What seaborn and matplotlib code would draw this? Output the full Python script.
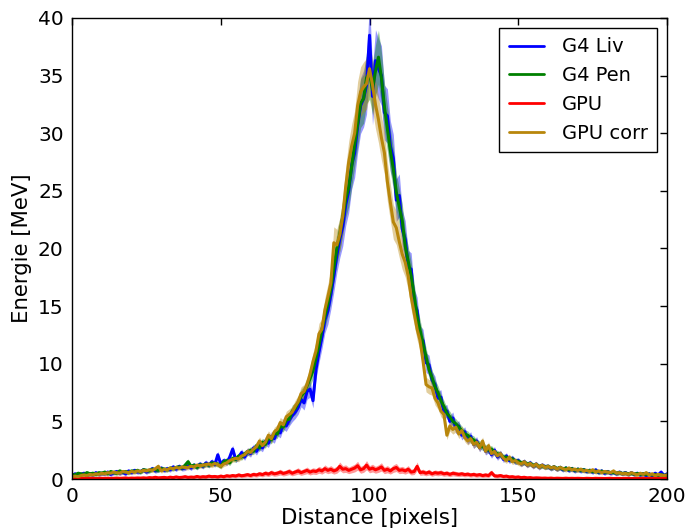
import numpy as np
import pandas as pd
import matplotlib
matplotlib.use("Agg")
import matplotlib.pyplot as plt
import seaborn as sns

# energy profiles along the line (one value per pixel, 0..200)
distance = list(range(201))

g4_liv = [
    0.3, 0.45, 0.25, 0.4, 0.5, 0.3, 0.45, 0.35, 0.55, 0.4,
    0.5, 0.45, 0.6, 0.4, 0.55, 0.65, 0.5, 0.6, 0.45, 0.7,
    0.55, 0.75, 0.6, 0.65, 0.8, 0.6, 0.75, 0.9, 0.7, 0.8,
    0.95, 0.75, 0.9, 0.8, 1.05, 0.85, 1.1, 0.9, 0.95, 1.15,
    0.95, 1.2, 1.05, 1.3, 1.1, 1.4, 1.2, 1.5, 1.25, 2.1,
    1.3, 1.6, 1.4, 1.9, 2.6, 1.7, 1.9, 2.3, 1.9, 2.4,
    2.2, 2.7, 2.4, 2.9, 2.7, 3.3, 3.1, 3.7, 3.5, 4.2,
    4.0, 4.8, 4.6, 5.1, 5.5, 5.8, 6.2, 6.9, 6.6, 7.6,
    7.8, 6.8, 9.5, 11.0, 12.3, 13.8, 14.6, 16.0, 17.6, 19.4,
    20.8, 21.9, 23.8, 25.0, 27.2, 28.3, 30.6, 32.4, 33.0, 34.2,
    38.5, 33.2, 36.3, 35.6, 35.0, 31.8, 31.5, 28.9, 27.8, 24.2,
    24.6, 21.7, 20.8, 18.4, 18.2, 15.3, 14.6, 12.3, 12.0, 10.1,
    9.9, 8.6, 8.2, 7.0, 7.1, 5.8, 5.9, 5.0, 5.3, 4.4,
    4.6, 3.8, 4.1, 3.4, 3.7, 3.0, 3.3, 2.7, 3.1, 2.4,
    2.6, 2.1, 2.5, 1.9, 2.2, 1.7, 2.0, 1.6, 1.8, 1.5,
    1.6, 1.3, 1.5, 1.2, 1.4, 1.1, 1.3, 1.0, 1.2, 1.05,
    1.1, 0.9, 1.05, 0.85, 1.0, 0.8, 0.95, 0.75, 0.9, 0.7,
    0.85, 0.7, 0.8, 0.65, 0.75, 0.6, 0.8, 0.55, 0.7, 0.5,
    0.65, 0.5, 0.6, 0.45, 0.6, 0.45, 0.55, 0.4, 0.55, 0.4,
    0.5, 0.35, 0.45, 0.3, 0.45, 0.3, 0.5, 0.35, 0.6, 0.3,
    0.45,
]

g4_pen = [
    0.4, 0.35, 0.5, 0.45, 0.4, 0.55, 0.45, 0.5, 0.4, 0.55,
    0.5, 0.6, 0.45, 0.65, 0.55, 0.5, 0.7, 0.6, 0.65, 0.55,
    0.7, 0.65, 0.75, 0.6, 0.8, 0.75, 0.7, 0.85, 0.8, 0.75,
    0.9, 0.85, 0.8, 0.95, 0.9, 1.0, 1.05, 0.95, 1.2, 1.5,
    1.1, 1.2, 1.0, 1.25, 1.15, 1.3, 1.2, 1.4, 1.35, 1.3,
    1.1, 1.5, 1.6, 1.4, 1.8, 1.7, 2.0, 1.9, 2.2, 2.3,
    2.5, 2.4, 2.9, 2.7, 3.2, 3.0, 3.6, 3.4, 4.0, 3.9,
    4.6, 4.5, 5.1, 5.2, 5.9, 6.1, 6.6, 7.2, 7.5, 8.1,
    8.7, 9.4, 10.5, 11.6, 13.0, 14.1, 15.2, 16.5, 18.3, 20.0,
    21.2, 22.7, 24.3, 25.3, 27.1, 29.0, 30.8, 32.6, 33.0, 34.8,
    35.2, 33.8, 35.4, 36.6, 34.8, 32.3, 30.4, 28.5, 26.9, 24.9,
    23.6, 22.4, 20.2, 18.9, 17.6, 15.9, 14.1, 12.9, 11.7, 10.6,
    9.5, 8.8, 8.0, 7.5, 6.8, 6.3, 5.7, 5.4, 5.0, 4.8,
    4.5, 4.2, 3.9, 3.8, 3.5, 3.4, 3.1, 3.0, 2.8, 2.7,
    2.5, 2.6, 2.3, 2.2, 2.1, 1.9, 1.9, 1.7, 1.75, 1.55,
    1.55, 1.4, 1.45, 1.3, 1.35, 1.2, 1.25, 1.1, 1.15, 1.05,
    1.1, 0.95, 1.05, 0.9, 1.0, 0.85, 0.95, 0.8, 0.9, 0.75,
    0.85, 0.75, 0.8, 0.7, 0.75, 0.65, 0.7, 0.6, 0.68, 0.58,
    0.62, 0.55, 0.58, 0.5, 0.55, 0.48, 0.52, 0.45, 0.5, 0.42,
    0.48, 0.4, 0.45, 0.38, 0.42, 0.35, 0.4, 0.33, 0.38, 0.32,
    0.35,
]

gpu = [
    0.05, 0.04, 0.06, 0.05, 0.04, 0.05, 0.06, 0.05, 0.04, 0.05,
    0.06, 0.05, 0.07, 0.05, 0.06, 0.08, 0.06, 0.07, 0.09, 0.06,
    0.08, 0.07, 0.09, 0.08, 0.1, 0.08, 0.12, 0.1, 0.15, 0.1,
    0.12, 0.14, 0.1, 0.16, 0.12, 0.18, 0.13, 0.15, 0.2, 0.14,
    0.17, 0.15, 0.22, 0.16, 0.2, 0.18, 0.25, 0.2, 0.22, 0.18,
    0.25, 0.2, 0.28, 0.24, 0.3, 0.26, 0.35, 0.28, 0.32, 0.38,
    0.3, 0.4, 0.35, 0.45, 0.38, 0.5, 0.42, 0.55, 0.45, 0.5,
    0.6, 0.48, 0.55, 0.65, 0.5, 0.6, 0.7, 0.55, 0.65, 0.75,
    0.6, 0.7, 0.65, 0.8, 0.7, 0.9, 0.75, 0.85, 0.7, 0.8,
    1.1, 0.85, 0.9, 0.75, 0.85, 0.95, 1.15, 0.8, 0.9, 1.2,
    0.85, 0.95, 0.8, 0.9, 1.05, 0.75, 0.85, 0.7, 0.9, 1.0,
    0.75, 0.8, 0.7, 0.85, 0.6, 0.65, 1.1, 0.55, 0.6, 0.5,
    0.6, 0.45, 0.55, 0.5, 0.55, 0.45, 0.5, 0.4, 0.5, 0.45,
    0.4, 0.45, 0.38, 0.42, 0.35, 0.4, 0.33, 0.38, 0.3, 0.35,
    0.3, 0.55, 0.28, 0.25, 0.3, 0.22, 0.25, 0.18, 0.2, 0.15,
    0.18, 0.12, 0.15, 0.1, 0.12, 0.08, 0.1, 0.09, 0.07, 0.08,
    0.06, 0.08, 0.05, 0.07, 0.06, 0.05, 0.07, 0.05, 0.06, 0.05,
    0.06, 0.05, 0.04, 0.06, 0.05, 0.04, 0.06, 0.05, 0.05, 0.04,
    0.05, 0.06, 0.04, 0.05, 0.05, 0.04, 0.06, 0.05, 0.04, 0.05,
    0.04, 0.05, 0.06, 0.04, 0.05, 0.05, 0.04, 0.06, 0.05, 0.04,
    0.05,
]

gpu_corr = [
    0.2, 0.25, 0.2, 0.3, 0.35, 0.3, 0.4, 0.35, 0.45, 0.4,
    0.5, 0.45, 0.55, 0.5, 0.6, 0.55, 0.5, 0.65, 0.6, 0.55,
    0.65, 0.6, 0.7, 0.65, 0.75, 0.7, 0.8, 0.75, 0.9, 1.1,
    0.7, 0.85, 0.8, 0.95, 0.9, 1.0, 0.95, 1.05, 1.0, 1.0,
    1.1, 1.05, 1.2, 1.15, 1.2, 1.25, 1.3, 1.2, 1.35, 1.25,
    1.1, 1.3, 1.4, 1.6, 1.7, 1.8, 1.75, 2.0, 2.1, 2.4,
    2.3, 2.6, 2.8, 3.3, 2.9, 3.2, 3.8, 3.5, 4.1, 4.3,
    4.9, 4.7, 5.4, 5.6, 5.8, 6.3, 6.7, 7.4, 7.6, 8.2,
    9.1, 10.2, 11.1, 12.6, 13.0, 14.7, 15.8, 17.0, 20.5, 20.3,
    21.2, 22.8, 25.4, 27.5, 28.9, 30.0, 32.4, 33.6, 34.0, 34.3,
    35.6, 34.2, 32.5, 31.2, 29.6, 28.3, 25.8, 24.0, 22.3, 21.8,
    20.6, 19.5, 18.8, 17.6, 15.8, 14.4, 13.0, 12.0, 10.2, 8.2,
    8.0, 7.9, 7.0, 6.6, 5.9, 5.6, 3.8, 4.6, 4.3, 4.5,
    3.9, 4.2, 3.6, 3.3, 3.5, 3.0, 3.2, 2.7, 3.3, 2.4,
    2.9, 2.2, 2.4, 2.0, 2.2, 1.8, 1.6, 1.9, 1.5, 1.6,
    1.4, 1.3, 1.5, 1.2, 1.35, 1.1, 1.3, 1.0, 1.2, 1.0,
    1.1, 0.95, 1.05, 0.85, 1.0, 0.9, 0.8, 0.95, 0.8, 0.85,
    0.75, 0.85, 0.7, 0.75, 0.65, 0.8, 0.6, 0.7, 0.55, 0.65,
    0.6, 0.55, 0.7, 0.5, 0.55, 0.45, 0.5, 0.4, 0.55, 0.45,
    0.35, 0.5, 0.4, 0.55, 0.35, 0.45, 0.3, 0.4, 0.35, 0.3,
    0.35,
]

labels = ["G4 Liv", "G4 Pen", "GPU", "GPU corr"]
colors = ["#0000ff", "#008000", "#ff0000", "#b8860b"]
series = [g4_liv, g4_pen, gpu, gpu_corr]
# relative uncertainty used for the shaded bands
band_rel = [0.07, 0.06, 0.25, 0.06]
band_abs = [0.15, 0.15, 0.1, 0.15]

x_ticks = [0, 50, 100, 150, 200]
y_ticks = [0, 5, 10, 15, 20, 25, 30, 35, 40]

df = pd.concat(
    [pd.DataFrame({"Distance": distance, "Energie": s, "serie": lab})
     for s, lab in zip(series, labels)],
    ignore_index=True,
)

sns.set_style("white")
plt.rcParams["font.family"] = ["DejaVu Sans"]
plt.rcParams["text.color"] = "black"
plt.rcParams["axes.labelcolor"] = "black"
plt.rcParams["xtick.color"] = "black"
plt.rcParams["ytick.color"] = "black"

fig, ax = plt.subplots(figsize=(6.88, 5.29), dpi=100)
fig.subplots_adjust(left=0.1047, right=0.9695, top=0.966, bottom=0.0945)

for s, lab, col, rel, ab in zip(series, labels, colors, band_rel, band_abs):
    y = np.array(s)
    err = y * rel + ab
    ax.fill_between(distance, y - err, y + err, color=col, alpha=0.4, lw=0)

sns.lineplot(data=df, x="Distance", y="Energie", hue="serie",
             palette=dict(zip(labels, colors)), linewidth=2.2,
             errorbar=None, ax=ax)

ax.set_xlim(0, 200)
ax.set_ylim(0, 40)
ax.set_xticks(x_ticks)
ax.set_yticks(y_ticks)
ax.tick_params(direction="in", top=True, right=True, length=5, width=1,
               labelsize=14.5, color="black", labelcolor="black", pad=6)
for sp in ax.spines.values():
    sp.set_color("black")
    sp.set_linewidth(1)
ax.set_xlabel("Distance [pixels]", fontsize=15.3, labelpad=1)
ax.set_ylabel("Energie [MeV]", fontsize=15.3, labelpad=4)

leg = ax.legend(loc="upper right", fontsize=14, fancybox=False,
                framealpha=1, edgecolor="black", handlelength=1.8,
                handletextpad=0.9, borderpad=0.5,
                borderaxespad=0.5, labelspacing=0.5)
leg.get_frame().set_linewidth(1)
for line in leg.get_lines():
    line.set_linewidth(2)
for t in leg.get_texts():
    t.set_color("black")

fig.savefig("out.png", dpi=100)
